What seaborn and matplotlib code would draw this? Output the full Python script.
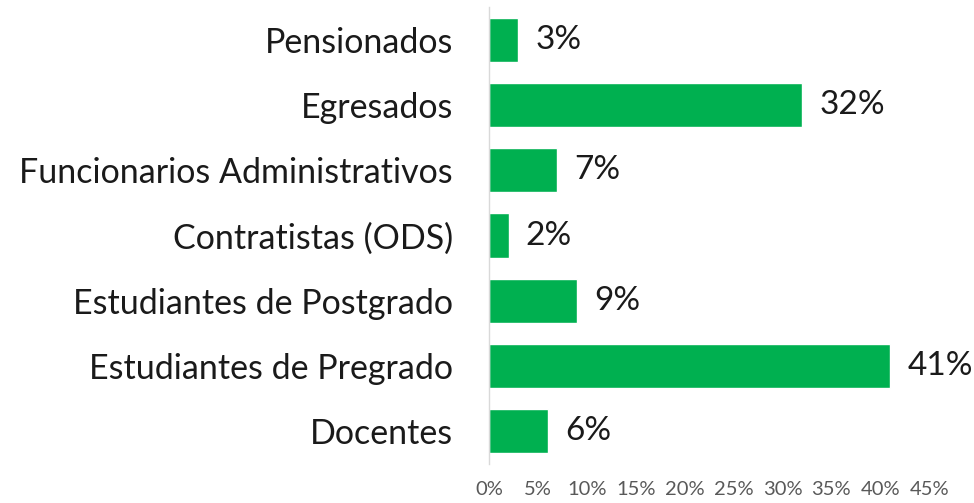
import pandas as pd
import matplotlib
matplotlib.use("Agg")
import matplotlib.pyplot as plt
import seaborn as sns

categories = ["Pensionados", "Egresados", "Funcionarios Administrativos",
              "Contratistas (ODS)", "Estudiantes de Postgrado",
              "Estudiantes de Pregrado", "Docentes"]
values = [3, 32, 7, 2, 9, 41, 6]
ticks = [0, 5, 10, 15, 20, 25, 30, 35, 40, 45]

df = pd.DataFrame({"grupo": categories, "pct": values})

sns.set_style("white")
plt.rcParams["font.family"] = ["Lato", "DejaVu Sans"]

fig = plt.figure(figsize=(9.74, 5.03), dpi=100)
ax = fig.add_axes([0.502, 0.0775, 0.452, 0.9085])

sns.barplot(data=df, x="pct", y="grupo", color="#00B050", saturation=1,
            width=0.675, ax=ax)

# value labels to the right of each bar
for i, v in enumerate(values):
    ax.text(v + 1.75, i, f"{v}%", va="center", ha="left", fontsize=24, color="#1a1a1a")

ax.set_xlim(0, 45)
ax.set_xticks(ticks)
ax.set_xticklabels([f"{t}%" for t in ticks], color="#595959", fontsize=14.5)
ax.tick_params(axis="x", length=0, pad=12)
ax.tick_params(axis="y", length=0, pad=26, labelsize=24.5, labelcolor="#1a1a1a")
ax.set_xlabel("")
ax.set_ylabel("")

for s in ["top", "right", "bottom"]:
    ax.spines[s].set_visible(False)
ax.spines["left"].set_color("#D9D9D9")
ax.spines["left"].set_linewidth(1)

fig.savefig("out.png", dpi=100)
